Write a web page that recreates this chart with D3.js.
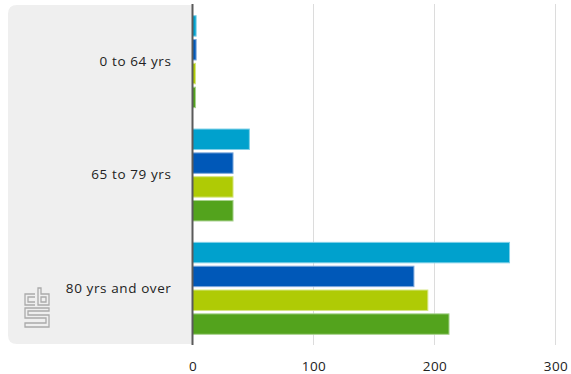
<!DOCTYPE html>
<html>
<head>
<meta charset="utf-8">
<script src="https://cdn.jsdelivr.net/npm/d3@7"></script>
<style>
  html, body { margin: 0; padding: 0; background: #fff; }
  svg { display: block; }
  text { font-family: "Open Sans", "DejaVu Sans", sans-serif; }
</style>
</head>
<body>
<div id="chart"></div>
<script>
const categories = ["0 to 64 yrs", "65 to 79 yrs", "80 yrs and over"];
const seriesNames = ["Series 1", "Series 2", "Series 3", "Series 4"];
const seriesColors = ["#00a1cd", "#0058b8", "#afcb05", "#53a31d"];
const seriesStrokes = ["#7fd0e8", "#7fa9dc", "#d6e582", "#a8d18e"];
const series1 = [3, 47, 262];
const series2 = [3, 33.5, 183];
const series3 = [2.5, 33.5, 194.5];
const series4 = [2.5, 33.5, 212];
const allSeries = [series1, series2, series3, series4];
const xTicks = [0, 100, 200, 300];

const W = 571, H = 374;
const svg = d3.select("#chart").append("svg").attr("width", W).attr("height", H);

const plotTop = 4, plotBottom = 345;
const x = d3.scaleLinear().domain([0, 300]).range([192.5, 555.5]);
const y0 = d3.scaleBand().domain(categories).range([5, 345]).paddingInner(0.18).paddingOuter(0.09);
const y1 = d3.scaleBand().domain(seriesNames).range([0, y0.bandwidth()]).paddingInner(0.1);

// gray panel with rounded left corners
const px0 = 8, px1 = x(0), py0 = 5, py1 = 344, r = 9;
svg.append("path")
  .attr("d", `M${px0 + r},${py0} L${px1},${py0} L${px1},${py1} L${px0 + r},${py1} Q${px0},${py1} ${px0},${py1 - r} L${px0},${py0 + r} Q${px0},${py0} ${px0 + r},${py0} Z`)
  .attr("fill", "#efefef");

// gridlines
svg.append("g").selectAll("line").data(xTicks.filter(d => d > 0)).join("line")
  .attr("x1", d => x(d)).attr("x2", d => x(d))
  .attr("y1", plotTop).attr("y2", plotBottom)
  .attr("stroke", "#dcdcdc").attr("stroke-width", 1);

// x axis tick labels
const xAxis = d3.axisBottom(x).tickValues(xTicks).tickSize(0).tickPadding(0);
const gx = svg.append("g").attr("transform", `translate(0,${plotBottom + 16})`).call(xAxis);
gx.select(".domain").remove();
gx.selectAll("text").attr("font-size", 13.5).attr("fill", "#222").attr("letter-spacing", 0.5)
  .attr("font-family", "'Open Sans', sans-serif").attr("dy", "0.71em");

// bars
const groups = svg.append("g").selectAll("g").data(categories).join("g")
  .attr("transform", c => `translate(0,${y0(c)})`);
groups.selectAll("rect").data((c, i) => allSeries.map((s, k) => ({k, v: s[i]}))).join("rect")
  .attr("x", x(0))
  .attr("y", d => y1(seriesNames[d.k]) + 0.5)
  .attr("width", d => x(d.v) - x(0))
  .attr("height", y1.bandwidth() - 1)
  .attr("fill", d => seriesColors[d.k])
  .attr("stroke", d => seriesStrokes[d.k])
  .attr("stroke-width", 1);

// y axis line
svg.append("line").attr("x1", x(0)).attr("x2", x(0)).attr("y1", plotTop).attr("y2", plotBottom)
  .attr("stroke", "#5a5a5a").attr("stroke-width", 2);

// category labels
const yAxis = d3.axisLeft(y0).tickSize(0).tickPadding(21);
const gy = svg.append("g").attr("transform", `translate(${x(0)},0)`).call(yAxis);
gy.select(".domain").remove();
gy.selectAll("text").attr("font-size", 13.5).attr("fill", "#222").attr("letter-spacing", 0.6)
  .attr("font-family", "'Open Sans', sans-serif");

// CBS logo (approximate)
const logo = svg.append("g").attr("transform", "translate(24,287)")
  .attr("fill", "none").attr("stroke", "#aaaaaa").attr("stroke-width", 1.3);
// "c"
logo.append("path").attr("d", "M11,7 L1,7 L1,18 L11,18 M11,10 L4,10 L4,15 L11,15");
// "b"
logo.append("path").attr("d", "M14,1 L14,18 L25,18 L25,7 L17,7 L17,1 Z M17,10 L22,10 L22,15 L17,15 Z");
// "S"
logo.append("path").attr("d", "M25,21 L1,21 L1,31 L22,31 L22,36 L1,36 L1,40 L25,40 L25,28 L4,28 L4,24 L25,24 Z");
</script>
</body>
</html>
